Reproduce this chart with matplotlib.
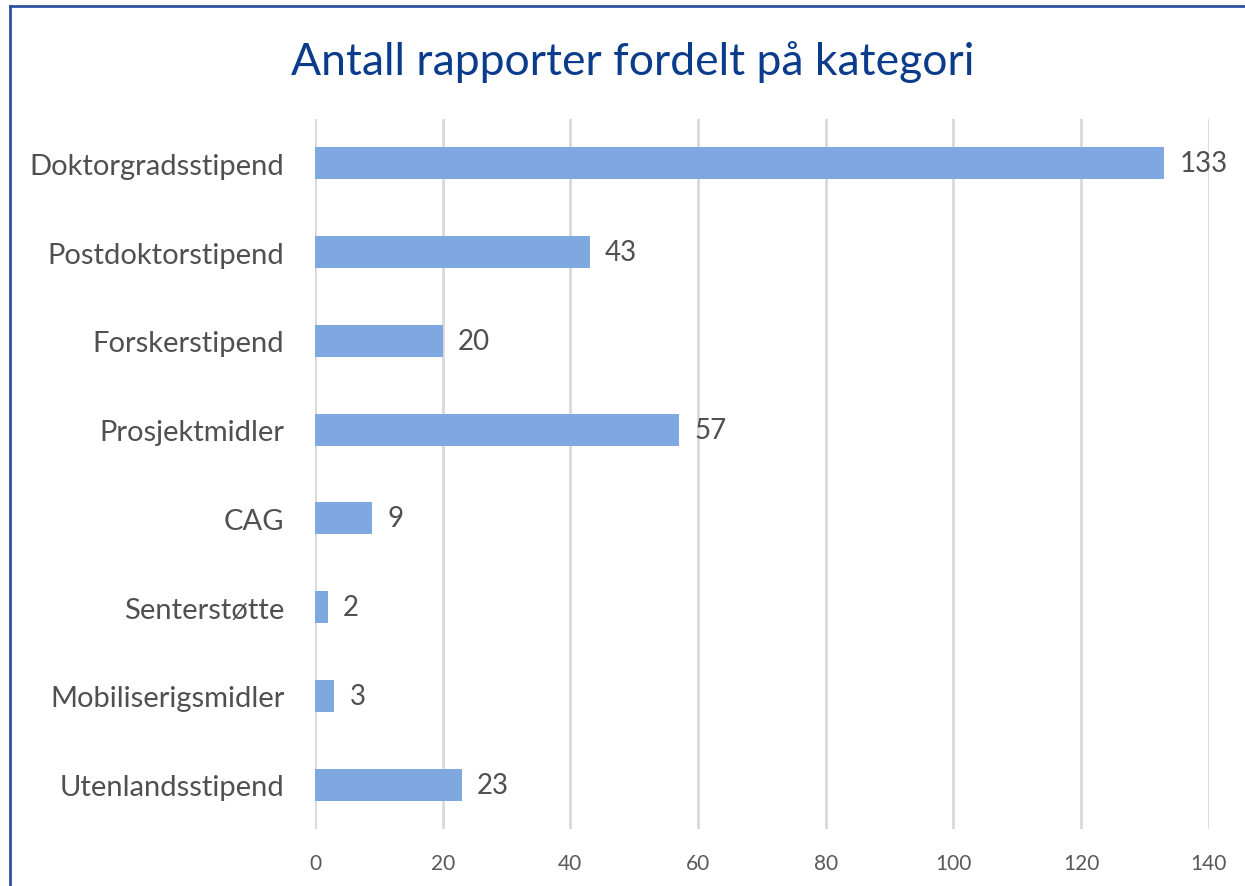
import matplotlib
matplotlib.use('Agg')
import matplotlib.pyplot as plt
from matplotlib.lines import Line2D

categories = ['Doktorgradsstipend', 'Postdoktorstipend', 'Forskerstipend', 'Prosjektmidler',
              'CAG', 'Senterstøtte', 'Mobiliserigsmidler', 'Utenlandsstipend']
values = [133, 43, 20, 57, 9, 2, 3, 23]
xticks = [0, 20, 40, 60, 80, 100, 120, 140]

plt.rcParams['font.family'] = ['Lato', 'DejaVu Sans']

fig = plt.figure(figsize=(12.45, 8.87), dpi=100)
ax = fig.add_axes([0.253, 0.0643, 0.718, 0.8004])

ypos = list(range(len(categories)))
ax.barh(ypos, values, height=0.36, color='#7FA8E0', zorder=3)
ax.set_ylim(len(categories) - 0.5, -0.5)
ax.set_xlim(0, 140)
ax.set_xticks(xticks)
ax.set_yticks(ypos)
ax.set_yticklabels(categories, fontsize=21, color='#505050')
ax.tick_params(axis='y', length=0, pad=22)
ax.tick_params(axis='x', length=0, pad=17, labelsize=15, labelcolor='#595959')
ax.grid(axis='x', color='#D9D9D9', linewidth=2, zorder=0)
for s in ax.spines.values():
    s.set_visible(False)

for y, v in zip(ypos, values):
    ax.annotate(str(v), (v, y), xytext=(11, 0), textcoords='offset points',
                va='center', ha='left', fontsize=20, color='#505050')

fig.text(0.508, 0.930, 'Antall rapporter fordelt på kategori', ha='center', va='center',
         fontsize=32, color='#0B3C8C')

# blue frame around the chart area
fig.add_artist(Line2D([10 / 1245, 10 / 1245], [0, 1 - 7 / 887], transform=fig.transFigure,
                      color='#2F52A0', linewidth=2))
fig.add_artist(Line2D([10 / 1245, 1], [1 - 7 / 887, 1 - 7 / 887], transform=fig.transFigure,
                      color='#2F52A0', linewidth=2))

fig.savefig('out.png', dpi=100)
